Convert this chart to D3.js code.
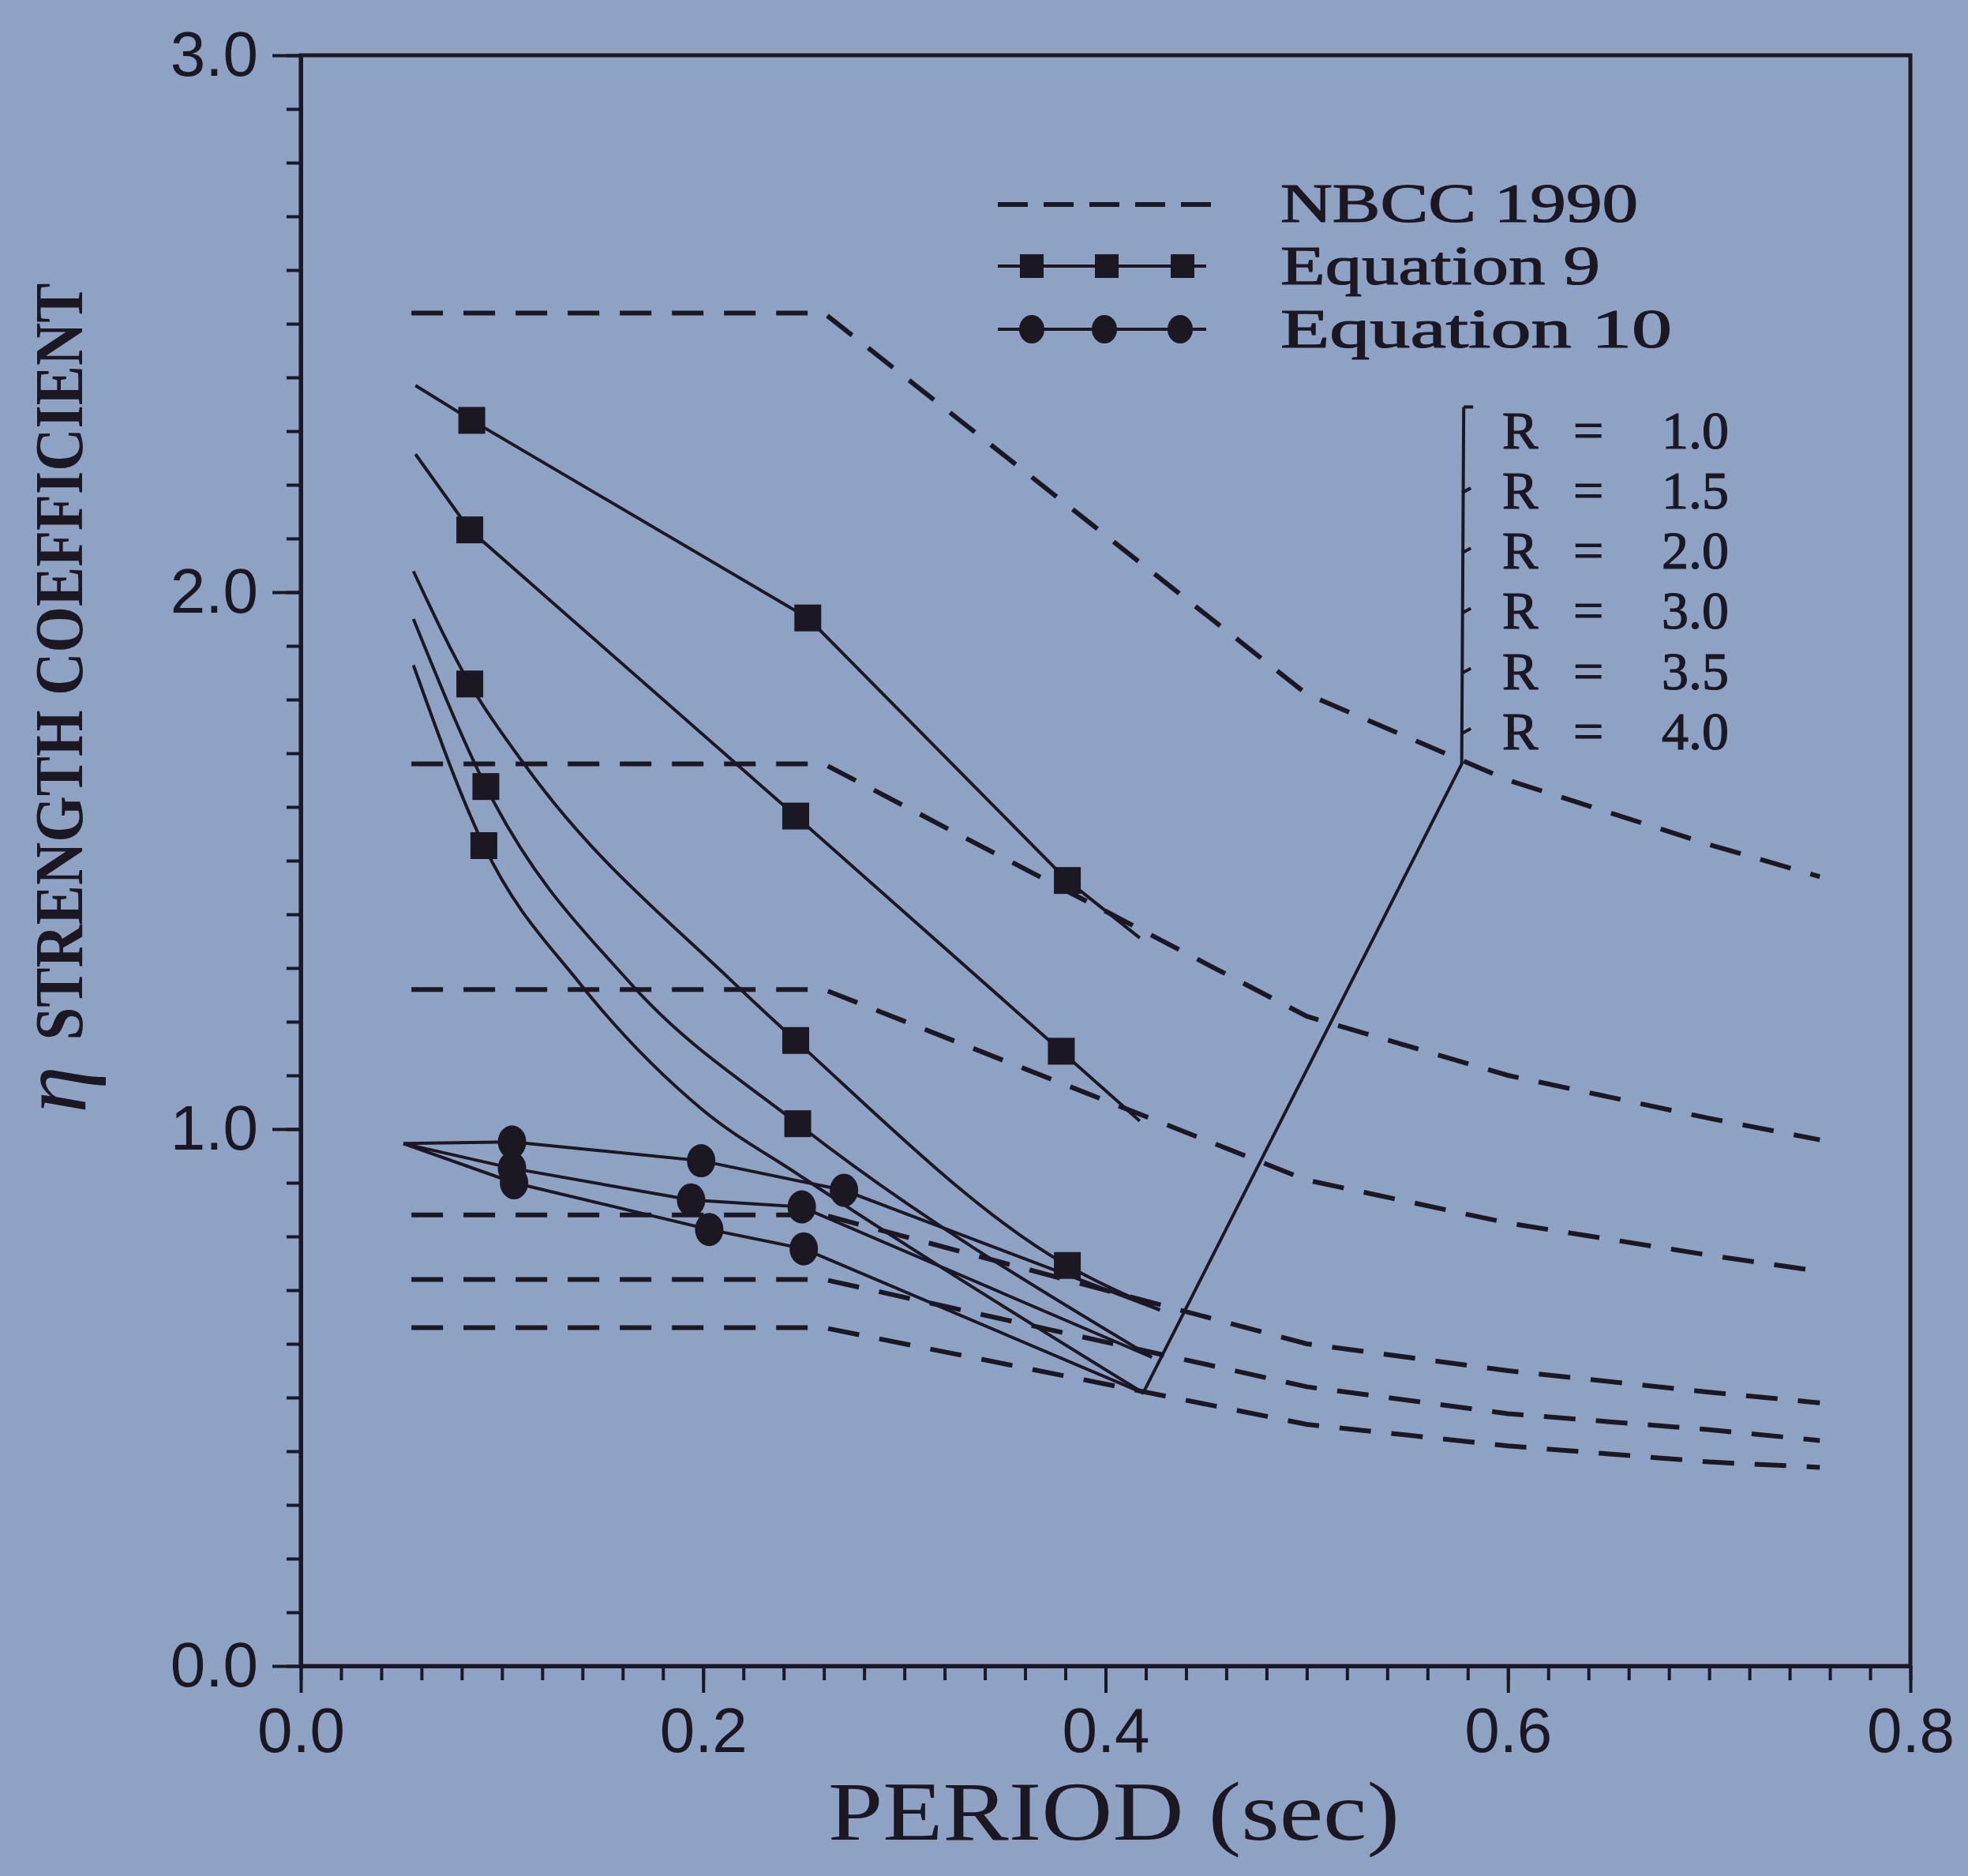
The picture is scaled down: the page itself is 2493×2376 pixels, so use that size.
<!DOCTYPE html>
<html>
<head>
<meta charset="utf-8">
<script src="https://cdnjs.cloudflare.com/ajax/libs/d3/7.8.5/d3.min.js"></script>
<style>
html,body{margin:0;padding:0;background:#8ea3c4;}
svg{display:block;}
</style>
</head>
<body>
<svg id="chart" width="2493" height="2376"></svg>
<script>
// ---------------- DATA ----------------
const xMajorTicks = [0.0, 0.2, 0.4, 0.6, 0.8];
const yMajorTicks = [0.0, 1.0, 2.0, 3.0];
const xTitle = "PERIOD (sec)";
const yTitle = "STRENGTH COEFFICIENT";
const yTitleSymbol = "η";

// NBCC 1990 (dashed) — one curve for each R
const nbccPeriods = [0.055, 0.26, 0.50, 0.60, 0.70, 0.755];
const nbccR10 = [2.52, 2.52, 1.81, 1.65, 1.53, 1.47];
const nbccR15 = [1.68, 1.68, 1.21, 1.10, 1.02, 0.98];
const nbccR20 = [1.26, 1.26, 0.905, 0.825, 0.765, 0.735];
const nbccR30 = [0.84, 0.84, 0.60, 0.55, 0.51, 0.49];
const nbccR35 = [0.72, 0.72, 0.52, 0.47, 0.44, 0.42];
const nbccR40 = [0.63, 0.63, 0.45, 0.41, 0.38, 0.37];

// Equation 9 (solid, square markers)
const eq9aT = [0.057, 0.085, 0.252, 0.381, 0.417];
const eq9aV = [2.385, 2.32, 1.952, 1.463, 1.356];
const eq9aMark = [0, 1, 1, 1, 0];
const eq9bT = [0.057, 0.084, 0.246, 0.378, 0.417];
const eq9bV = [2.257, 2.116, 1.583, 1.145, 1.015];
const eq9bMark = [0, 1, 1, 1, 0];
const eq9cT = [0.056, 0.084, 0.110, 0.215, 0.246, 0.381, 0.427];
const eq9cV = [2.039, 1.829, 1.685, 1.273, 1.165, 0.746, 0.663];
const eq9cMark = [0, 1, 0, 0, 1, 1, 0];
const eq9dT = [0.056, 0.092, 0.164, 0.247, 0.423];
const eq9dV = [1.95, 1.638, 1.271, 1.01, 0.575];
const eq9dMark = [0, 1, 0, 1, 0];
const eq9eT = [0.056, 0.091, 0.139, 0.200, 0.247, 0.419];
const eq9eV = [1.864, 1.528, 1.27, 1.035, 0.916, 0.508];
const eq9eMark = [0, 1, 0, 0, 0, 0];

// Equation 10 (solid, circle markers)
const eq10aT = [0.051, 0.105, 0.199, 0.270, 0.427];
const eq10aV = [0.973, 0.976, 0.941, 0.886, 0.663];
const eq10aMark = [0, 1, 1, 1, 0];
const eq10bT = [0.051, 0.105, 0.194, 0.249, 0.423];
const eq10bV = [0.973, 0.927, 0.868, 0.855, 0.575];
const eq10bMark = [0, 1, 1, 1, 0];
const eq10cT = [0.051, 0.106, 0.203, 0.250, 0.419];
const eq10cV = [0.973, 0.900, 0.813, 0.777, 0.508];
const eq10cMark = [0, 1, 1, 1, 0];

// R labels and leader / bracket
const rLabelValues = ["1.0", "1.5", "2.0", "3.0", "3.5", "4.0"];
const rLabelLevels = [2.303, 2.191, 2.079, 1.967, 1.855, 1.743];
const leaderT = [0.4186, 0.577, 0.578];
const leaderV = [0.508, 1.680, 2.345];

const legendLabels = ["NBCC 1990", "Equation 9", "Equation 10"];

// ---------------- DRAWING ----------------
const ink = "#1b1822";
const svg = d3.select("#chart");
svg.append("rect").attr("width", 2493).attr("height", 2376).attr("fill", "#8ea3c4");

const x = d3.scaleLinear().domain([0, 0.8]).range([381, 2420]);
const y = d3.scaleLinear().domain([0, 3]).range([2110, 70]);

const zip = (ts, vs) => ts.map((t, i) => [t, vs[i]]);

// frame (top + right)
svg.append("rect")
  .attr("x", x(0)).attr("y", y(3))
  .attr("width", x(0.8) - x(0)).attr("height", y(0) - y(3))
  .attr("fill", "none").attr("stroke", ink).attr("stroke-width", 5);

// axes
const xMinor = d3.range(0, 0.8001, 0.02);
const yMinor = d3.range(0, 3.0001, 0.1);
const gx = svg.append("g").attr("transform", `translate(0,${y(0)})`);
gx.call(d3.axisBottom(x).tickValues(xMinor).tickSize(18).tickSizeOuter(0).tickFormat(""));
const gx2 = svg.append("g").attr("transform", `translate(0,${y(0)})`);
gx2.call(d3.axisBottom(x).tickValues(xMajorTicks).tickSize(34).tickSizeOuter(0).tickPadding(18).tickFormat(d3.format(".1f")));
const gy = svg.append("g").attr("transform", `translate(${x(0)},0)`);
gy.call(d3.axisLeft(y).tickValues(yMinor).tickSize(18).tickSizeOuter(0).tickFormat(""));
const gy2 = svg.append("g").attr("transform", `translate(${x(0)},0)`);
gy2.call(d3.axisLeft(y).tickValues(yMajorTicks).tickSize(36).tickSizeOuter(0).tickPadding(18).tickFormat(d3.format(".1f")));
[gx, gx2, gy, gy2].forEach(g => {
  g.selectAll("path.domain").attr("stroke", ink).attr("stroke-width", 5);
  g.selectAll(".tick line").attr("stroke", ink).attr("stroke-width", 4);
  g.selectAll(".tick text").attr("fill", ink)
    .style("font-family", "'Liberation Sans', Arial, sans-serif").style("font-size", "80px");
});

// NBCC dashed
const lineLin = d3.line().x(d => x(d[0])).y(d => y(d[1]));
[nbccR10, nbccR15, nbccR20, nbccR30, nbccR35, nbccR40].forEach(vals => {
  svg.append("path").datum(zip(nbccPeriods, vals))
    .attr("d", lineLin).attr("fill", "none").attr("stroke", ink)
    .attr("stroke-width", 6).attr("stroke-dasharray", "40 26");
});

// Equation 9 curves (the two upper ones are near-polylines, the lower ones smooth)
const lineSmooth = d3.line().x(d => x(d[0])).y(d => y(d[1])).curve(d3.curveMonotoneX);
const eq9 = [[eq9aT, eq9aV, eq9aMark], [eq9bT, eq9bV, eq9bMark], [eq9cT, eq9cV, eq9cMark],
             [eq9dT, eq9dV, eq9dMark], [eq9eT, eq9eV, eq9eMark]];
eq9.forEach(([ts, vs], k) => {
  svg.append("path").datum(zip(ts, vs)).attr("d", k < 2 ? lineLin : lineSmooth)
    .attr("fill", "none").attr("stroke", ink).attr("stroke-width", 4);
});

// Equation 10 curves
const eq10 = [[eq10aT, eq10aV, eq10aMark], [eq10bT, eq10bV, eq10bMark], [eq10cT, eq10cV, eq10cMark]];
eq10.forEach(([ts, vs]) => {
  svg.append("path").datum(zip(ts, vs)).attr("d", lineLin)
    .attr("fill", "none").attr("stroke", ink).attr("stroke-width", 4);
});

// leader line + bracket
svg.append("path").datum(zip(leaderT, leaderV)).attr("d", lineLin)
  .attr("fill", "none").attr("stroke", ink).attr("stroke-width", 4);
const bx = x(leaderT[2]);
svg.append("line").attr("x1", bx).attr("x2", bx + 12)
  .attr("y1", y(leaderV[2])).attr("y2", y(leaderV[2]))
  .attr("stroke", ink).attr("stroke-width", 4);
rLabelLevels.slice(1).forEach(v => {
  svg.append("line").attr("x1", bx - 2).attr("x2", bx + 9)
    .attr("y1", y(v) + 4).attr("y2", y(v) - 2)
    .attr("stroke", ink).attr("stroke-width", 4);
});

// markers
eq9.forEach(([ts, vs, ms]) => {
  ts.forEach((t, i) => {
    if (!ms[i]) return;
    svg.append("rect").attr("x", x(t) - 17).attr("y", y(vs[i]) - 17)
      .attr("width", 34).attr("height", 34).attr("fill", ink);
  });
});
eq10.forEach(([ts, vs, ms]) => {
  ts.forEach((t, i) => {
    if (!ms[i]) return;
    svg.append("ellipse").attr("cx", x(t)).attr("cy", y(vs[i]))
      .attr("rx", 18).attr("ry", 21).attr("fill", ink);
  });
});

// R labels
const serif = "'Liberation Serif', 'DejaVu Serif', serif";
rLabelValues.forEach((r, i) => {
  const t = svg.append("text").attr("y", y(rLabelLevels[i]) + 24)
    .attr("fill", ink).style("font-family", serif).style("font-size", "68px")
    .attr("stroke", ink).attr("stroke-width", 1.2);
  t.append("tspan").attr("x", 1903).text("R");
  t.append("tspan").attr("x", 1993).text("=");
  t.append("tspan").attr("x", 2105).text(r);
});

// legend
const lg = svg.append("g");
lg.append("line").attr("x1", 1264).attr("x2", 1550).attr("y1", 259).attr("y2", 259)
  .attr("stroke", ink).attr("stroke-width", 6).attr("stroke-dasharray", "38 20");
lg.append("line").attr("x1", 1264).attr("x2", 1528).attr("y1", 337).attr("y2", 337)
  .attr("stroke", ink).attr("stroke-width", 4);
[1307, 1402, 1498].forEach(cx => lg.append("rect").attr("x", cx - 15).attr("y", 337 - 15)
  .attr("width", 30).attr("height", 30).attr("fill", ink));
lg.append("line").attr("x1", 1264).attr("x2", 1528).attr("y1", 417).attr("y2", 417)
  .attr("stroke", ink).attr("stroke-width", 4);
[1307, 1399, 1495].forEach(cx => lg.append("ellipse").attr("cx", cx).attr("cy", 417)
  .attr("rx", 16).attr("ry", 18).attr("fill", ink));

const legendY = [281, 360, 440];
const legendLen = [453, 405, 496];
legendLabels.forEach((s, i) => {
  lg.append("text").attr("x", 1622).attr("y", legendY[i]).attr("fill", ink)
    .style("font-family", serif).style("font-size", "70px")
    .attr("stroke", ink).attr("stroke-width", 1.2)
    .attr("textLength", legendLen[i]).attr("lengthAdjust", "spacingAndGlyphs").text(s);
});

// axis titles
svg.append("text").attr("x", 1049).attr("y", 2330).attr("fill", ink)
  .style("font-family", serif).style("font-size", "106px")
  .attr("textLength", 724).attr("lengthAdjust", "spacingAndGlyphs").text(xTitle);
svg.append("text").attr("transform", "translate(104,838) rotate(-90)")
  .attr("text-anchor", "middle").attr("fill", ink)
  .style("font-family", serif).style("font-size", "86px").style("font-weight", "bold")
  .attr("textLength", 959).attr("lengthAdjust", "spacingAndGlyphs").text(yTitle);
svg.append("text").attr("transform", "translate(108,1380) rotate(-90)")
  .attr("text-anchor", "middle").attr("fill", ink)
  .style("font-family", serif).style("font-size", "120px").style("font-style", "italic")
  .text(yTitleSymbol);
</script>
</body>
</html>
